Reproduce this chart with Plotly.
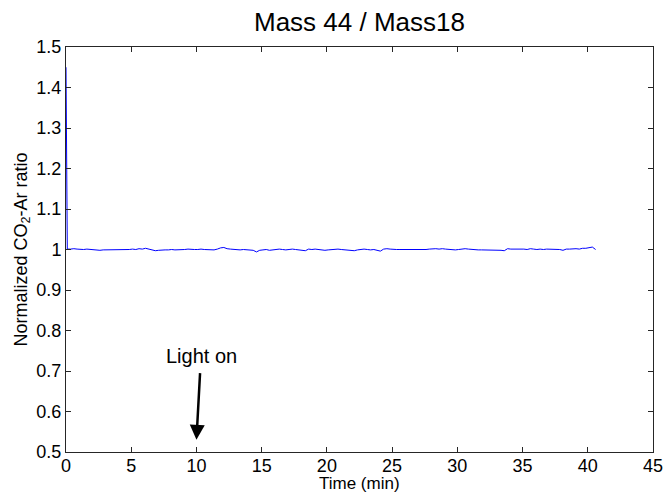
import plotly.graph_objects as go

# ---- data ----
spike_time = [0.0]
spike_value = [1.45]

step_start = 0.1
step = 0.25
# deviations from 1.0 in units of 0.001, sampled every 0.25 min from t=0.1
deviation_milli = [
    1, 1, 2, 1, 0, 0, 1, 0, -1, -1, -2, -1, -1, 0, -1, -1, 0, -1, -1, 0,
    1, 0, 2, 1, 3, 1, -1, -3, -2, -1, -1, -1, 0, -1, -1, 0, 0, 1, 0, 0,
    0, 1, 0, 0, 0, -1, 1, 4, 5, 2, 1, 0, 0, -1, 0, -1, -1, -2, -6, -2,
    -1, 0, -2, -1, 0, 1, 0, -1, 0, 1, 0, -1, -2, -3, 1, 0, 1, 0, -1, -2,
    -1, 0, 1, 1, 0, -1, -1, -2, -3, -1, 0, 1, 0, -1, 0, -2, -4, 1, 2, 1,
    0, 0, 0, 0, 0, -1, 0, 0, 0, 0, 0, 1, 2, 2, 1, 2, 1, 0, 0, -1,
    0, 1, 2, 1, 0, -1, -1, -1, -1, -1, -1, -1, -1, -2, -3, 2, 1, 1, 2, 1,
    1, 0, 2, 1, 0, 1, 0, 1, 1, 0, 1, 0, -2, 1, 1, 2, 2, 1, 3, 3, 4, 6, 0,
]

times = spike_time + [round(step_start + step * i, 3) for i in range(len(deviation_milli))]
values = spike_value + [1.0 + d / 1000.0 for d in deviation_milli]

title_text = "Mass 44 / Mass18"
x_title = "Time (min)"
y_title = "Normalized CO<sub>2</sub>-Ar ratio"
x_ticks = [0, 5, 10, 15, 20, 25, 30, 35, 40, 45]
y_ticks = [0.5, 0.6, 0.7, 0.8, 0.9, 1.0, 1.1, 1.2, 1.3, 1.4, 1.5]
y_tick_text = ["0.5", "0.6", "0.7", "0.8", "0.9", "1", "1.1", "1.2", "1.3", "1.4", "1.5"]

annot_text = "Light on"
arrow_head = (10.0, 0.53)
annot_pos = (10.35, 0.738)

FONT = "Liberation Sans, Arial, sans-serif"
W, H = 664, 494
M = dict(l=66, r=11, t=47, b=42)
plot_h = H - M["t"] - M["b"]

fig = go.Figure()
fig.add_trace(go.Scatter(
    x=times, y=values, mode="lines",
    line=dict(color="#0000ff", width=1),
    showlegend=False, hoverinfo="skip",
))

axis_common = dict(
    showgrid=False, zeroline=False, showline=True, linecolor="#262626", linewidth=1,
    mirror="ticks", ticks="inside", ticklen=5, tickcolor="#262626",
    tickfont=dict(family=FONT, size=18, color="black"),
    automargin=False,
)

fig.update_xaxes(range=[0, 45], tickvals=x_ticks, ticklabelstandoff=-3, **axis_common)
fig.update_yaxes(range=[0.5, 1.5], tickvals=y_ticks, ticktext=y_tick_text,
                 title=dict(text=y_title, font=dict(family=FONT, size=18, color="black"), standoff=4),
                 **axis_common)

# x-axis title placed at the bottom edge
fig.add_annotation(x=0.5, y=-M["b"] / plot_h, xref="paper", yref="paper",
                   xanchor="center", yanchor="bottom", text=x_title, showarrow=False,
                   borderpad=0, font=dict(family=FONT, size=17, color="black"))

# "Light on" label with its arrow
fig.add_annotation(x=arrow_head[0], y=arrow_head[1], ax=annot_pos[0], ay=annot_pos[1],
                   xref="x", yref="y", axref="x", ayref="y", text=annot_text,
                   showarrow=True, arrowhead=2, arrowsize=1.2, arrowwidth=2.5, arrowcolor="black",
                   startstandoff=5, font=dict(family=FONT, size=20, color="black"))

fig.update_layout(
    width=W, height=H,
    margin=M,
    paper_bgcolor="white", plot_bgcolor="white",
    title=dict(text=title_text, x=0.5, xref="paper", y=1 - 22 / H, yref="container",
               xanchor="center", yanchor="middle",
               font=dict(family=FONT, size=26, color="black")),
)

fig.write_html("out.html")
